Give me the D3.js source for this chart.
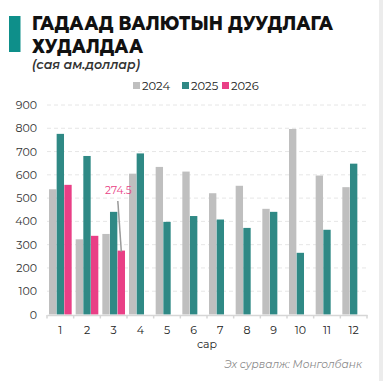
<!DOCTYPE html>
<html>
<head>
<meta charset="utf-8">
<script src="https://cdn.jsdelivr.net/npm/d3@7"></script>
<style>
  html, body { margin: 0; padding: 0; background: #fff; }
  svg { display: block; }
</style>
</head>
<body>
<svg id="chart" width="383" height="381"></svg>
<script>
// Monthly foreign-currency auction sales, million USD
const months = ["1","2","3","4","5","6","7","8","9","10","11","12"];
const years = ["2024", "2025", "2026"];
const values2024 = [538, 323, 346, 605, 634, 614, 521, 553, 454, 797, 597, 547];
const values2025 = [776, 681, 441, 692, 398, 423, 408, 372, 441, 265, 364, 648];
const values2026 = [557, 338, 274.5, null, null, null, null, null, null, null, null, null];
const yTicks = [0, 100, 200, 300, 400, 500, 600, 700, 800, 900];
const colors = { "2024": "#bfbfbf", "2025": "#2f8985", "2026": "#e93f86" };

const svg = d3.select("#chart");
const font = "Montserrat, 'Open Sans', 'Noto Sans', sans-serif";

// panel edge on the right
svg.append("rect").attr("x", 379).attr("y", 0).attr("width", 4).attr("height", 381).attr("fill", "#ececec");

// title block
svg.append("rect").attr("x", 9).attr("y", 16).attr("width", 11.5).attr("height", 36).attr("fill", "#0e8f8a");
svg.append("text").attr("x", 32).attr("y", 29.5)
  .attr("font-family", font).attr("font-weight", 800).attr("font-size", 20)
  .attr("textLength", 301).attr("lengthAdjust", "spacingAndGlyphs")
  .attr("fill", "#111").text("ГАДААД ВАЛЮТЫН ДУУДЛАГА");
svg.append("text").attr("x", 32).attr("y", 52.5)
  .attr("font-family", font).attr("font-weight", 800).attr("font-size", 20)
  .attr("textLength", 111).attr("lengthAdjust", "spacingAndGlyphs")
  .attr("fill", "#111").text("ХУДАЛДАА");
svg.append("text").attr("x", 32).attr("y", 69)
  .attr("font-family", font).attr("font-style", "italic").attr("font-weight", 600).attr("font-size", 12.5)
  .attr("fill", "#333").text("(сая ам.доллар)");

// legend
const legendX = [133, 182, 222];
years.forEach((yr, i) => {
  const g = svg.append("g").attr("transform", `translate(${legendX[i]},86)`);
  g.append("rect").attr("x", 0).attr("y", -4).attr("width", 7).attr("height", 7).attr("fill", colors[yr]);
  g.append("text").attr("x", 9).attr("y", 4).attr("font-family", font).attr("font-size", 11.5)
    .attr("fill", "#222").text(yr);
});

// scales
const x = d3.scaleBand().domain(months).range([47, 367]);
const xs = d3.scaleBand().domain(years).range([2, x.bandwidth() - 2]).paddingInner(0.04);
const y = d3.scaleLinear().domain([0, 900]).range([314.5, 105]);

// gridlines
svg.append("g").selectAll("line").data(yTicks.slice(1)).join("line")
  .attr("x1", 47).attr("x2", 367)
  .attr("y1", d => y(d)).attr("y2", d => y(d))
  .attr("stroke", "#e6e6e6").attr("stroke-width", 1).attr("stroke-dasharray", "4,3");

// y axis labels
const yAxis = svg.append("g").attr("transform", "translate(37,0)")
  .call(d3.axisLeft(y).tickValues(yTicks).tickSize(0).tickPadding(0));
yAxis.select(".domain").remove();
yAxis.selectAll("text").attr("font-family", font).attr("font-size", 11).attr("fill", "#333");

// bars
const series = { "2024": values2024, "2025": values2025, "2026": values2026 };
const barData = [];
months.forEach((m, i) => years.forEach(yr => {
  const v = series[yr][i];
  if (v != null) barData.push({ m, yr, v });
}));
svg.append("g").selectAll("rect").data(barData).join("rect")
  .attr("x", d => x(d.m) + xs(d.yr))
  .attr("width", xs.bandwidth())
  .attr("y", d => y(d.v))
  .attr("height", d => y(0) - y(d.v))
  .attr("fill", d => colors[d.yr]);

// x axis
const xAxis = svg.append("g").attr("transform", `translate(0,${y(0) + 0.5})`)
  .call(d3.axisBottom(x).tickSize(0).tickPadding(11));
xAxis.select(".domain").attr("stroke", "#d6d6d6").attr("stroke-width", 1.5);
xAxis.selectAll("text").attr("font-family", font).attr("font-size", 11).attr("fill", "#222");
svg.append("g").selectAll("line").data(d3.range(months.length + 1)).join("line")
  .attr("x1", i => 47 + i * x.step()).attr("x2", i => 47 + i * x.step())
  .attr("y1", y(0) + 0.5).attr("y2", y(0) + 4)
  .attr("stroke", "#d6d6d6").attr("stroke-width", 1.5);

svg.append("text").attr("x", 207).attr("y", 348).attr("text-anchor", "middle")
  .attr("font-family", font).attr("font-size", 11).attr("fill", "#222").text("сар");

// annotation on March 2026
const annIdx = 2;
const annX = x(months[annIdx]) + xs("2026") + xs.bandwidth() / 2;
svg.append("line")
  .attr("x1", annX - 3.5).attr("y1", 201)
  .attr("x2", annX).attr("y2", y(values2026[annIdx]) + 1)
  .attr("stroke", "#9a9a9a").attr("stroke-width", 1.5);
svg.append("text").attr("x", annX - 3).attr("y", 194).attr("text-anchor", "middle")
  .attr("font-family", font).attr("font-size", 10.5).attr("fill", "#e93f86")
  .text(values2026[annIdx]);

// source
svg.append("text").attr("x", 362).attr("y", 368).attr("text-anchor", "end")
  .attr("font-family", font).attr("font-style", "italic").attr("font-size", 10.5)
  .attr("fill", "#8a8a8a").text("Эх сурвалж: Монголбанк");
</script>
</body>
</html>
